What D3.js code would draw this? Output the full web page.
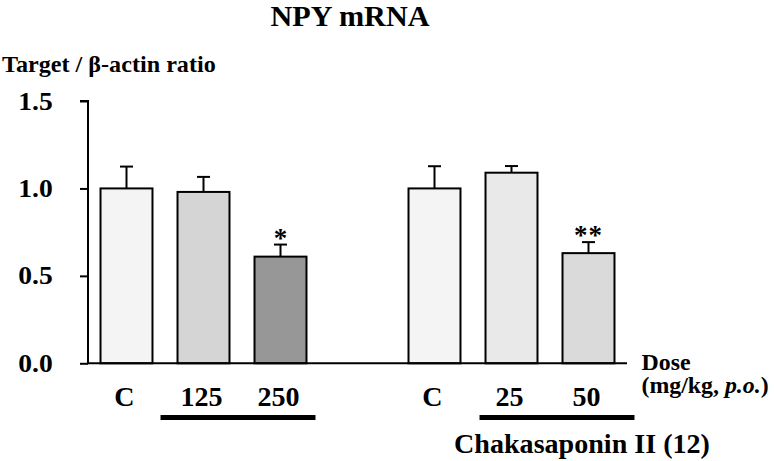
<!DOCTYPE html>
<html>
<head>
<meta charset="utf-8">
<script src="https://cdn.jsdelivr.net/npm/d3@7"></script>
<style>
  html, body { margin: 0; padding: 0; background: #fff; }
  svg { display: block; }
  text { font-family: "Liberation Serif", "Times New Roman", serif; font-weight: bold; fill: #000; }
</style>
</head>
<body>
<svg id="chart" width="774" height="461"></svg>
<script>
// ---- data ----
const title = "NPY mRNA";
const yAxisLabel = "Target / β-actin ratio";
const slots = ["C-a", "125", "250", "gap", "C-b", "25", "50"];
const barKeys = ["C-a", "125", "250", "C-b", "25", "50"];
const barLabels = ["C", "125", "250", "C", "25", "50"];
const barValues = [1.00, 0.98, 0.61, 1.00, 1.09, 0.63];
const barErrors = [0.125, 0.086, 0.069, 0.127, 0.038, 0.063];
const significance = ["", "", "*", "", "", "**"];
const yTicks = [0, 0.5, 1.0, 1.5];
const groupName = "Chakasaponin II (12)";
const doseLabel = "Dose";
const unitLabel = "(mg/kg, p.o.)";

// ---- styles ----
const fills = ["#f4f4f4", "#d5d5d5", "#979797", "#f4f4f4", "#e9e9e9", "#dadada"];
const SX = 1.06; // horizontal stretch of the original typography

const svg = d3.select("#chart");

const x = d3.scaleBand().domain(slots).range([88, 627]).paddingInner(0.325).paddingOuter(0.1625);
const y = d3.scaleLinear().domain([0, 1.5]).range([363.3, 101]);
const bw = x.bandwidth();

function stext(g, str, px, py, size, anchor) {
  return g.append("text")
    .attr("transform", `translate(${px},${py}) scale(${SX},1)`)
    .attr("text-anchor", anchor || "start")
    .style("font-size", size + "px")
    .text(str);
}

// Title & y label
stext(svg, title, 350, 25.5, 28.5, "middle");
stext(svg, yAxisLabel, 2, 72, 22.8, "start");

// Y axis
const yAxis = d3.axisLeft(y).tickValues(yTicks).tickSize(8).tickFormat(d3.format(".1f"));
const gy = svg.append("g").attr("transform", "translate(88,0)").call(yAxis);
gy.select(".domain").attr("stroke", "#000").attr("stroke-width", 2).attr("d", `M-8,${y(1.5)}H0V${y(0)}`);
gy.selectAll(".tick line").attr("stroke", "#000").attr("stroke-width", 2);
gy.selectAll(".tick text").remove();
yTicks.forEach(t => {
  stext(svg, d3.format(".1f")(t), 52.7, y(t) + 8.5, 26, "end");
});

// Bars
const bars = barKeys.map((k, i) => ({ key: k, label: barLabels[i], v: barValues[i], e: barErrors[i], sig: significance[i], fill: fills[i] }));

// error bars
const eg = svg.append("g");
bars.forEach(b => {
  const cx = x(b.key) + bw / 2;
  eg.append("line").attr("x1", cx).attr("x2", cx).attr("y1", y(b.v)).attr("y2", y(b.v + b.e))
    .attr("stroke", "#000").attr("stroke-width", 2);
  eg.append("line").attr("x1", cx - 6.5).attr("x2", cx + 6.5).attr("y1", y(b.v + b.e)).attr("y2", y(b.v + b.e))
    .attr("stroke", "#000").attr("stroke-width", 2);
});

svg.append("g").selectAll("rect").data(bars).join("rect")
  .attr("x", d => x(d.key))
  .attr("y", d => y(d.v))
  .attr("width", bw)
  .attr("height", d => y(0) - y(d.v))
  .attr("fill", d => d.fill)
  .attr("stroke", "#000")
  .attr("stroke-width", 2);

// significance marks
bars.filter(b => b.sig).forEach(b => {
  const cx = x(b.key) + bw / 2;
  svg.append("text")
    .attr("x", cx).attr("y", y(b.v + b.e) + 2)
    .attr("text-anchor", "middle")
    .style("font-size", "27px")
    .style("letter-spacing", b.sig.length > 1 ? "1px" : "0px")
    .text(b.sig);
});

// X axis line
svg.append("line").attr("x1", 87).attr("x2", 627).attr("y1", y(0)).attr("y2", y(0))
  .attr("stroke", "#000").attr("stroke-width", 2);

// category labels
bars.forEach(b => {
  stext(svg, b.label, x(b.key) + bw / 2 - 2, 406, 26.5, "middle");
});

// group underlines
svg.append("rect").attr("x", x("125") - 17).attr("y", 415).attr("width", x("250") + bw + 9 - (x("125") - 17)).attr("height", 5).attr("fill", "#000");
svg.append("rect").attr("x", x("25") - 6).attr("y", 415).attr("width", x("50") + bw + 20 - (x("25") - 6)).attr("height", 5).attr("fill", "#000");

// group name
stext(svg, groupName, 582, 453, 26.5, "middle");

// Dose labels
stext(svg, doseLabel, 641.5, 370, 22.5, "start");
const u = svg.append("text")
  .attr("transform", `translate(641.5,393) scale(${SX},1)`)
  .style("font-size", "22.5px");
u.append("tspan").text("(mg/kg, ");
u.append("tspan").style("font-style", "italic").text("p.o.");
u.append("tspan").text(")");
</script>
</body>
</html>
